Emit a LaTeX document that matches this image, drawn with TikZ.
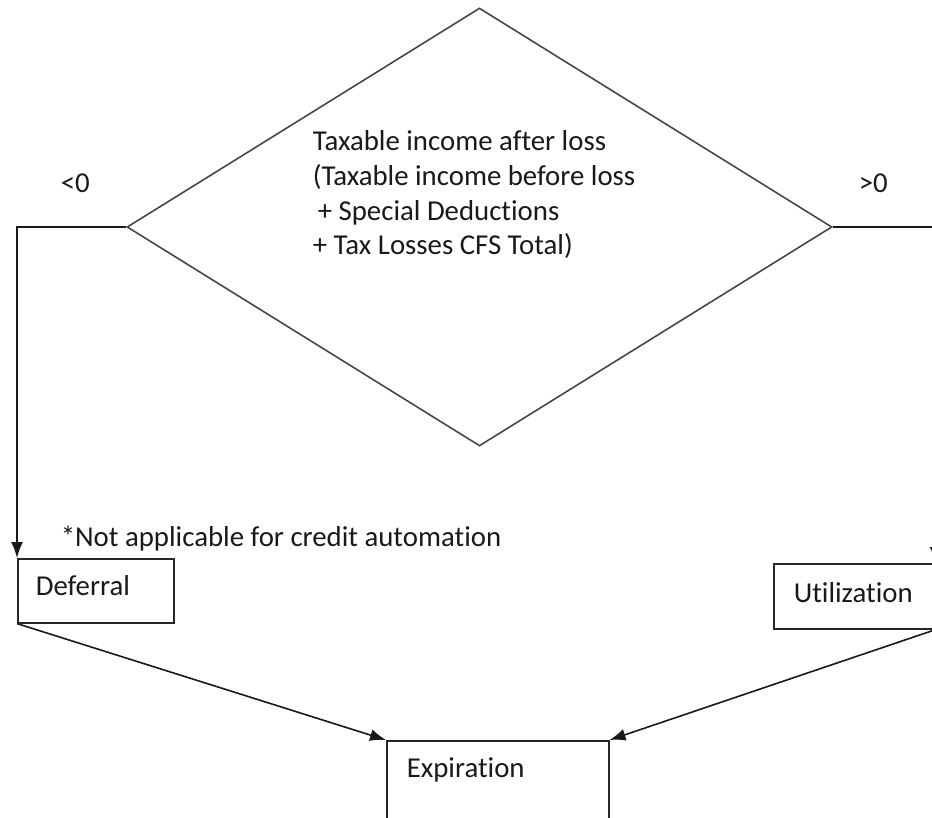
\documentclass[tikz,border=0pt]{standalone}
\usepackage{fontspec}
\setmainfont{Carlito}[Ligatures=NoCommon]
\usetikzlibrary{shapes.geometric, arrows.meta}

\tikzset{
	box/.style={draw=black!85, anchor=north west, inner sep=0pt},
	txt/.style={anchor=base west, inner sep=0pt, text=black!90}
}

\begin{document}
\begin{tikzpicture}[x=1pt, y=-1pt, font=\fontsize{28.8}{34.7}\selectfont, line width=1.6pt]
			\useasboundingbox (0,0) rectangle (932,818);
			\clip (0,0) rectangle (932,818);

			\node [diamond, draw=black!72, minimum width=705pt, minimum height=438pt, inner sep=0pt] (dec) at (479.5,227) {};
			\node [txt, align=left] (dectext) at (312,255) {Taxable income after loss\\(Taxable income before loss\\\hspace{5pt}+ Special Deductions\\+ Tax Losses CFS Total)};

			\node [txt] (neg) at (60,193) {<0};
			\node [txt] (pos) at (858,193) {>0};

			\node [box, minimum width=156pt, minimum height=64pt] (def) at (17,558) {};
			\node [box, minimum width=161pt, minimum height=65pt] (util) at (773,563) {};
			\node [box, minimum width=222pt, minimum height=100pt] (exp) at (386,740) {};

			\node [txt] (note) at (60,546) {*Not applicable for credit automation};
			\node [txt] (deftext) at (35,595) {Deferral};
			\node [txt] (utiltext) at (793,602) {Utilization};
			\node [txt] (exptext) at (406,777) {Expiration};

			\begin{scope}[-{Latex[length=16pt, width=12pt]}, draw=black!90]
			\draw (dec.west) -| (def.north west);
			\draw (dec.east) -| (util.north east);
			\draw (def.south west) -- (exp.north west);
			\draw (util.south east) -- (exp.north east);
			\end{scope}
		\end{tikzpicture}
\end{document}
